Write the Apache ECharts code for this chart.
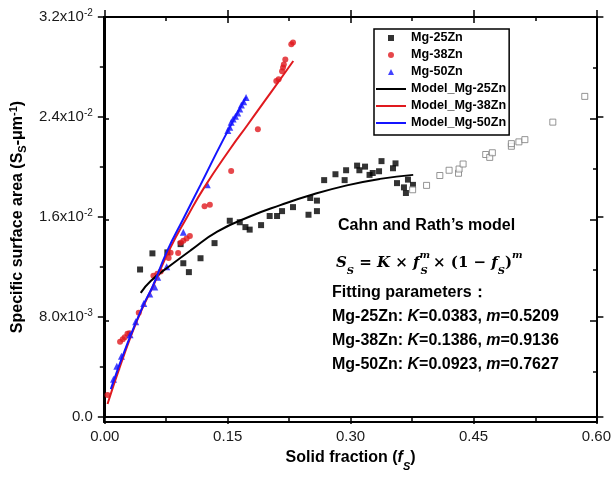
<!DOCTYPE html>
<html>
<head>
<meta charset="utf-8">
<script src="https://cdn.jsdelivr.net/npm/echarts@6/dist/echarts.min.js"></script>
<style>html,body{margin:0;padding:0;background:#fff}#c{width:614px;height:477px}</style>
</head>
<body>
<div id="c"></div>
<script>
// ---- data ----
const xTickLabels = ['0.00', '0.15', '0.30', '0.45', '0.60'];
const yTickLabels = ['0.0', '8.0x10^-3', '1.6x10^-2', '2.4x10^-2', '3.2x10^-2'];
const seriesNames = ['Mg-25Zn', 'Mg-38Zn', 'Mg-50Zn', 'Model_Mg-25Zn', 'Model_Mg-38Zn', 'Model_Mg-50Zn'];

const mg25Points = [
  [0.0430,0.01180],[0.0581,0.01309],[0.0763,0.01317],[0.0925,0.01383],[0.0958,0.01230],
  [0.1026,0.01159],[0.1168,0.01270],[0.1339,0.01391],[0.1525,0.01570],[0.1647,0.01558],
  [0.1716,0.01519],[0.1768,0.01499],[0.1907,0.01535],[0.2012,0.01608],[0.2102,0.01608],
  [0.2163,0.01647],[0.2297,0.01679],[0.2486,0.01618],[0.2507,0.01752],[0.2589,0.01731],
  [0.2589,0.01647],[0.2677,0.01895],[0.2815,0.01942],[0.2927,0.01895],[0.2945,0.01974],
  [0.3079,0.02011],[0.3107,0.01974],[0.3176,0.02003],[0.3231,0.01937],[0.3270,0.01952],
  [0.3347,0.01966],[0.3377,0.02047],[0.3517,0.01990],[0.3548,0.02029],[0.3566,0.01871],
  [0.3651,0.01837],[0.3675,0.01792],[0.3700,0.01899],[0.3761,0.01857]
];
const mg25OpenPoints = [
  [0.3757,0.01818],[0.3927,0.01853],[0.4089,0.01932],[0.4202,0.01974],[0.4317,0.01950],
  [0.4324,0.01984],[0.4373,0.02024],[0.4649,0.02100],[0.4698,0.02077],[0.4730,0.02114],
  [0.4962,0.02166],[0.4962,0.02187],[0.5054,0.02201],[0.5127,0.02219],[0.5468,0.02359],
  [0.5858,0.02565]
];
const mg38Points = [
  [0.0033,0.00176],[0.0186,0.00603],[0.0219,0.00623],[0.0243,0.00639],[0.0276,0.00666],
  [0.0301,0.00671],[0.0414,0.00835],[0.0593,0.01130],[0.0641,0.01146],[0.0682,0.01164],
  [0.0779,0.01272],[0.0803,0.01315],[0.0895,0.01313],[0.0925,0.01394],[0.0958,0.01410],
  [0.0998,0.01428],[0.1038,0.01449],[0.1217,0.01687],[0.1282,0.01699],[0.1542,0.01968],
  [0.1868,0.02302],[0.2093,0.02688],[0.2121,0.02702],[0.2163,0.02767],[0.2175,0.02797],
  [0.2185,0.02820],[0.2203,0.02860],[0.2276,0.02982],[0.2297,0.02997]
];
const mg50Points = [
  [0.0106,0.00302],[0.0146,0.00407],[0.0203,0.00487],[0.0308,0.00658],[0.0377,0.00763],
  [0.0475,0.00908],[0.0548,0.00985],[0.0609,0.01040],[0.0645,0.01119],[0.0755,0.01202],
  [0.0958,0.01479],[0.1250,0.01859],[0.1501,0.02293],[0.1525,0.02319],[0.1542,0.02359],
  [0.1566,0.02385],[0.1594,0.02407],[0.1622,0.02433],[0.1647,0.02464],[0.1667,0.02496],
  [0.1695,0.02522],[0.1724,0.02557]
];
const model25 = [
  [0.0438,0.00993],[0.0560,0.01088],[0.0803,0.01214],[0.1047,0.01333],[0.1372,0.01483],
  [0.1777,0.01606],[0.2142,0.01695],[0.2507,0.01774],[0.2954,0.01853],[0.3359,0.01905],
  [0.3764,0.01937]
];
const model38 = [
  [0.0033,0.00104],[0.0195,0.00423],[0.0398,0.00779],[0.0600,0.01064],[0.0803,0.01357],
  [0.1006,0.01602],[0.1208,0.01831],[0.1533,0.02148],[0.1737,0.02332],[0.1939,0.02517],
  [0.2142,0.02702],[0.2300,0.02848]
];
const model50 = [
  [0.0073,0.00223],[0.0276,0.00589],[0.0478,0.00906],[0.0581,0.01040],[0.0763,0.01331],
  [0.0965,0.01594],[0.1168,0.01857],[0.1452,0.02227],[0.1725,0.02559]
];
const alloyNames = ['Mg-25Zn', 'Mg-38Zn', 'Mg-50Zn'];
const kValues = ['0.0383', '0.1386', '0.0923'];
const mValues = ['0.5209', '0.9136', '0.7627'];

// ---- chart ----
const FONT = '"Liberation Sans", Arial, sans-serif';
const RED = '#e0191e', BLUE = '#1414ff', BLACK = '#000';
const chart = echarts.init(document.getElementById('c'), null, {renderer: 'canvas'});

const gridPos = {left: 104, right: 17, top: 17, bottom: 55};
const xBase = {type: 'value', min: 0, max: 0.6, interval: 0.15, splitLine: {show: false}, axisLine: {onZero: false, lineStyle: {color: '#000', width: 2}}};
const yBase = {type: 'value', min: 0, max: 0.032, interval: 0.008, splitLine: {show: false}, axisLine: {onZero: false, lineStyle: {color: '#000', width: 2}}};
const tickStyle = {color: '#000', width: 1.5};

function xLabelFmt(v) { return xTickLabels[Math.round(v / 0.15)] || ''; }
function yLabelFmt(v) {
  const s = yTickLabels[Math.round(v / 0.008)] || '';
  return s.replace(/\^(.+)$/, '{sup|$1}');
}

const SQUARE_ICON = 'path://M0,0L10,0L10,10L0,10Z';
const TRI_ICON = 'path://M5,0L10,10L0,10Z';
const CIRCLE_ICON = 'path://M5,0A5,5,0,1,1,4.99,0Z';
const hidden = {opacity: 0};

const option = {
  animation: false,
  backgroundColor: '#fff',
  grid: [Object.assign({}, gridPos), Object.assign({}, gridPos)],
  xAxis: [
    Object.assign({}, xBase, {gridIndex: 0, position: 'bottom',
      axisTick: {show: true, inside: false, length: 7, lineStyle: tickStyle},
      axisLabel: {formatter: xLabelFmt, margin: 12, fontSize: 15, color: '#1a1a1a', fontFamily: FONT},
      name: 'Solid fraction ({it|f}{sub|S})', nameLocation: 'middle', nameGap: 33,
      nameTextStyle: {fontSize: 16, fontWeight: 'bold', color: '#000', fontFamily: FONT,
        rich: {it: {fontSize: 16, fontWeight: 'bold', fontStyle: 'italic', fontFamily: FONT},
               sub: {fontSize: 11, fontWeight: 'bold', fontStyle: 'italic', fontFamily: FONT, verticalAlign: 'bottom', padding: [0, 0, -6, 0]}}}}),
    Object.assign({}, xBase, {gridIndex: 0, position: 'top',
      axisTick: {show: true, inside: false, length: 7, lineStyle: tickStyle}, axisLabel: {show: false}}),
    Object.assign({}, xBase, {gridIndex: 1, position: 'bottom',
      axisTick: {show: true, inside: true, length: 6, lineStyle: tickStyle},
      minorTick: {show: true, splitNumber: 2, length: 4, lineStyle: tickStyle}, axisLabel: {show: false}}),
    Object.assign({}, xBase, {gridIndex: 1, position: 'top',
      axisTick: {show: true, inside: true, length: 6, lineStyle: tickStyle},
      minorTick: {show: true, splitNumber: 2, length: 4, lineStyle: tickStyle}, axisLabel: {show: false}})
  ],
  yAxis: [
    Object.assign({}, yBase, {gridIndex: 0, position: 'left',
      axisTick: {show: true, inside: false, length: 7, lineStyle: tickStyle},
      minorTick: {show: true, splitNumber: 2, length: 5, lineStyle: tickStyle},
      axisLabel: {formatter: yLabelFmt, margin: 12, fontSize: 15, color: '#1a1a1a', fontFamily: FONT, lineHeight: 18,
        rich: {sup: {fontSize: 10, verticalAlign: 'top', color: '#1a1a1a', fontFamily: FONT, lineHeight: 10}}},
      name: 'Specific surface area (S{sub|S}-μm{sup|-1})', nameLocation: 'middle', nameGap: 73,
      nameTextStyle: {fontSize: 16, fontWeight: 'bold', color: '#000', fontFamily: FONT, lineHeight: 20,
        rich: {sub: {fontSize: 11, fontWeight: 'bold', fontFamily: FONT, verticalAlign: 'bottom', lineHeight: 14},
               sup: {fontSize: 11, fontWeight: 'bold', fontFamily: FONT, verticalAlign: 'top', lineHeight: 11}}}}),
    Object.assign({}, yBase, {gridIndex: 0, position: 'right',
      axisTick: {show: true, inside: false, length: 7, lineStyle: tickStyle}, axisLabel: {show: false}}),
    Object.assign({}, yBase, {gridIndex: 1, position: 'left',
      axisTick: {show: true, inside: true, length: 5, lineStyle: tickStyle}, axisLabel: {show: false}}),
    Object.assign({}, yBase, {gridIndex: 1, position: 'right',
      axisTick: {show: true, inside: true, length: 7, lineStyle: tickStyle},
      minorTick: {show: true, splitNumber: 2, length: 4, lineStyle: tickStyle}, axisLabel: {show: false}})
  ],
  legend: {
    data: [
      {name: seriesNames[0], icon: SQUARE_ICON},
      {name: seriesNames[1], icon: CIRCLE_ICON},
      {name: seriesNames[2], icon: TRI_ICON},
      {name: seriesNames[3], itemStyle: hidden},
      {name: seriesNames[4], itemStyle: hidden},
      {name: seriesNames[5], itemStyle: hidden}
    ],
    symbolKeepAspect: true,
    orient: 'vertical', left: 374, top: 29,
    padding: [2, 3, 5, 1], itemGap: 3, itemWidth: 30, itemHeight: 6, itemTextGap: 3,
    borderColor: '#000', borderWidth: 1.5, backgroundColor: '#fff',
    textStyle: {fontSize: 12.6, fontWeight: 'bold', color: '#000', fontFamily: FONT, lineHeight: 14}
  },
  series: [
    {name: 'Mg-25Zn', type: 'scatter', data: mg25Points, symbol: 'rect', symbolSize: 6, itemStyle: {color: BLACK}},
    {name: 'Mg-25Zn (open)', type: 'scatter', data: mg25OpenPoints, symbol: 'rect', symbolSize: 6,
      itemStyle: {color: '#fff', borderColor: '#7a7a7a', borderWidth: 1}},
    {name: 'Mg-38Zn', type: 'scatter', data: mg38Points, symbol: 'circle', symbolSize: 6, itemStyle: {color: RED}},
    {name: 'Mg-50Zn', type: 'scatter', data: mg50Points, symbol: 'triangle', symbolSize: 7, itemStyle: {color: BLUE}},
    {name: 'Model_Mg-25Zn', type: 'line', data: model25, smooth: true, symbol: 'none', lineStyle: {color: BLACK, width: 2}, itemStyle: {color: BLACK}},
    {name: 'Model_Mg-38Zn', type: 'line', data: model38, smooth: true, symbol: 'none', lineStyle: {color: RED, width: 2}, itemStyle: {color: RED}},
    {name: 'Model_Mg-50Zn', type: 'line', data: model50, smooth: true, symbol: 'none', lineStyle: {color: BLUE, width: 2}, itemStyle: {color: BLUE}}
  ],
  graphic: []
};

const SERIF = '"DejaVu Serif", "Liberation Serif", serif';
const eqRich = {
  it: {fontFamily: SERIF, fontSize: 15, fontWeight: 'bold', fontStyle: 'italic', fill: '#000'},
  n: {fontFamily: SERIF, fontSize: 15, fontWeight: 'bold', fill: '#000'},
  sub: {fontFamily: SERIF, fontSize: 10, fontWeight: 'bold', fontStyle: 'italic', fill: '#000', verticalAlign: 'bottom', lineHeight: 12},
  supm: {fontFamily: SERIF, fontSize: 10, fontWeight: 'bold', fontStyle: 'italic', fill: '#000', verticalAlign: 'top', lineHeight: 12, width: 1},
  sup: {fontFamily: SERIF, fontSize: 10, fontWeight: 'bold', fontStyle: 'italic', fill: '#000', verticalAlign: 'top', lineHeight: 12}
};
const eqText = '{it|S}{sub|S}{n| = }{it|K}{n| × }{it|f}{supm|m}{sub|S}{n| × (1 − }{it|f}{sub|S}{n|)}{sup|m}';
const txtRich = {
  b: {fontFamily: FONT, fontSize: 16, fontWeight: 'bold', fill: '#000'},
  i: {fontFamily: FONT, fontSize: 16, fontWeight: 'bold', fontStyle: 'italic', fill: '#000'}
};
option.graphic.push(
  {type: 'text', x: 338, y: 226, style: {text: 'Cahn and Rath’s model', font: 'bold 16px ' + FONT, fill: '#000', verticalAlign: 'middle'}},
  {type: 'text', x: 336, y: 263, style: {text: eqText, rich: eqRich, verticalAlign: 'middle', lineHeight: 26}},
  {type: 'text', x: 332, y: 293, style: {text: 'Fitting parameters：', font: 'bold 16px ' + FONT, fill: '#000', verticalAlign: 'middle'}}
);
alloyNames.forEach(function (nm, i) {
  option.graphic.push({type: 'text', x: 332, y: 317 + i * 24,
    style: {text: '{b|' + nm + ': }{i|K}{b|=' + kValues[i] + ', }{i|m}{b|=' + mValues[i] + '}', rich: txtRich, verticalAlign: 'middle'}});
});

chart.setOption(option);
</script>
</body>
</html>
